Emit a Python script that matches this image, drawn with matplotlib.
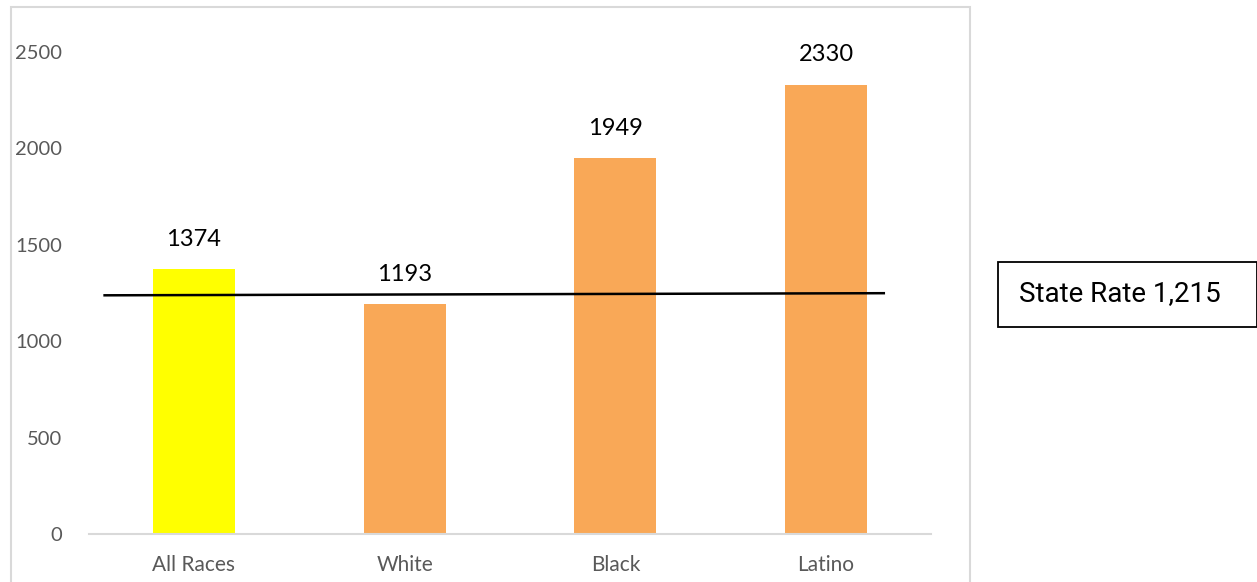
import matplotlib
matplotlib.use('Agg')
import matplotlib.pyplot as plt
from matplotlib.patches import Rectangle

categories = ['All Races', 'White', 'Black', 'Latino']
rates = [1374, 1193, 1949, 2330]
bar_colors = ['#FFFF00', '#F9A857', '#F9A857', '#F9A857']
yticks = [0, 500, 1000, 1500, 2000, 2500]

state_rate = 1215
# hand drawn reference line (slightly tilted)
line_x = [-0.43, 3.28]
line_y = [1238, 1249]

W, H = 1257, 582
fig = plt.figure(figsize=(W / 100, H / 100), dpi=100)
fig.patch.set_facecolor('white')

def fx(px):
    return px / W

def fy(py):
    return 1 - py / H

# outer chart border
fig.patches.append(Rectangle((fx(11), fy(600)), fx(970) - fx(11), fy(7) - fy(600),
                             transform=fig.transFigure, fill=False,
                             edgecolor='#D9D9D9', linewidth=1.5))

ax = fig.add_axes([fx(88.6), fy(534), fx(931.4) - fx(88.6), fy(52) - fy(534)])
x = range(len(categories))
ax.bar(x, rates, width=0.39, color=bar_colors)
ax.set_xlim(-0.5, 3.5)
ax.set_ylim(0, 2500)

for xi, v in zip(x, rates):
    ax.annotate(str(v), (xi, v), xytext=(0, 14), textcoords='offset points',
                ha='center', va='bottom', fontsize=17, family='Lato', color='black')

ax.plot(line_x, line_y, color='black', linewidth=1.8, solid_capstyle='butt')

for s in ['top', 'right', 'left']:
    ax.spines[s].set_visible(False)
ax.spines['bottom'].set_color('#D9D9D9')
ax.spines['bottom'].set_linewidth(1.5)

ax.set_xticks(list(x))
ax.set_xticklabels(categories, fontsize=15, family='Lato', color='#595959')
ax.set_yticks(yticks)
ax.set_yticklabels([str(t) for t in yticks], fontsize=14.5, family='Lato', color='#595959',
                   va='top')
for lbl in ax.get_yticklabels():
    lbl.set_va('center_baseline')
ax.tick_params(axis='x', length=0, pad=15)
ax.tick_params(axis='y', length=0, pad=19)

# state rate text box
fig.patches.append(Rectangle((fx(998), fy(326.5)), fx(1256.5) - fx(998), fy(262) - fy(326.5),
                             transform=fig.transFigure, fill=False,
                             edgecolor='black', linewidth=1.3))
fig.text(fx(1019), fy(294), 'State Rate 1,215', fontsize=20, family='Roboto',
         color='black', ha='left', va='center')

fig.savefig('out.png', dpi=100)
